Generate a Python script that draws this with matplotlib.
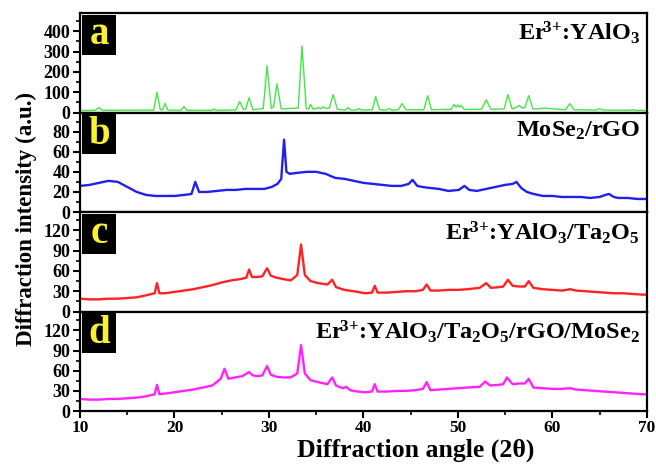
import numpy as np
import matplotlib
matplotlib.use('Agg')
import matplotlib.pyplot as plt
from matplotlib.patches import Rectangle
from matplotlib.ticker import MultipleLocator

plt.rcParams['font.family'] = 'Liberation Serif'
plt.rcParams['font.weight'] = 'bold'
plt.rcParams['mathtext.fontset'] = 'custom'
plt.rcParams['mathtext.rm'] = 'Liberation Serif:bold'
plt.rcParams['mathtext.bf'] = 'Liberation Serif:bold'
plt.rcParams['mathtext.it'] = 'Liberation Serif:bold'

# panel a: Er3+:YAlO3
angle_a = [10, 11.6, 12.0, 12.4, 17.8, 18.15, 18.5, 18.75, 19.0, 19.3, 20.7, 21.0, 21.3,
           23.9, 24.2, 24.5, 26.5, 26.9, 27.3, 27.55, 27.9, 28.3, 29.4, 29.8, 30.25, 30.5,
           30.85, 31.3, 33.1, 33.5, 33.95, 34.2, 34.4, 34.7, 35.0, 35.2, 35.45, 35.7, 36.1,
           36.4, 36.8, 37.25, 38.1, 38.4, 38.7, 39.2, 39.5, 39.8, 40.95, 41.3, 41.7, 42.4,
           42.7, 43.0, 43.7, 44.1, 44.5, 46.4, 46.8, 47.2, 49.3, 49.6, 49.8, 50.0, 50.15,
           50.3, 50.7, 52.5, 53.0, 53.5, 54.9, 55.3, 55.75, 56.2, 56.5, 56.8, 57.1, 57.5,
           57.95, 58.5, 59.2, 60.0, 61.4, 61.85, 62.3, 64.6, 65.0, 65.4, 68.2, 68.5, 68.8, 70]
inten_a = [10, 11, 24, 11, 12, 100, 14, 13, 45, 12, 11, 30, 11,
           11, 17, 11, 13, 54, 16, 18, 73, 14, 20, 230, 20, 28,
           142, 18, 22, 328, 20, 16, 40, 16, 18, 26, 18, 28, 20,
           22, 88, 16, 12, 24, 12, 12, 20, 12, 14, 78, 14, 12,
           20, 12, 14, 44, 14, 14, 83, 14, 16, 40, 26, 38, 27,
           35, 15, 16, 63, 16, 18, 88, 18, 25, 35, 22, 25, 83,
           18, 18, 22, 18, 14, 44, 14, 12, 18, 12, 11, 14, 11, 10]

# panel b: MoSe2/rGO
angle_b = [10, 11, 12, 13, 14, 15, 16, 17, 18, 19, 20, 21, 21.8, 22.2, 22.6,
           23.5, 24.5, 25.5, 26.5, 27.5, 28.5, 29.5, 30.3, 30.9, 31.3, 31.6, 31.85,
           32.2, 33, 34, 35, 36, 37, 38, 39, 40, 41, 42, 43, 44, 44.8, 45.2, 45.7,
           46.2, 47, 48, 49, 50.1, 50.7, 51.2, 52, 53, 54, 55, 55.8, 56.2, 56.7,
           57.3, 58, 59, 60, 61, 62, 63, 64, 65, 65.6, 66.0, 66.5, 67, 68, 69, 70]
inten_b = [26, 27, 29, 31, 30, 25, 20, 17, 16, 16, 16, 17, 18, 30, 20,
           20, 21, 22, 22, 23, 23, 23, 25, 28, 33, 72, 40,
           38, 39, 40, 40, 38, 34, 33, 31, 29, 28, 27, 26, 26, 28, 32, 26,
           25, 24, 23, 21, 22, 26, 22, 21, 23, 25, 27, 28, 30, 24,
           20, 18, 16, 16, 15, 15, 15, 14, 15, 17, 18, 15, 14, 14, 13, 13]

# panel c: Er3+:YAlO3/Ta2O5
angle_c = [10, 11, 12, 13, 14, 15, 16, 17, 17.9, 18.15, 18.4, 19, 20, 21, 22, 23, 24,
           25, 26, 27, 27.6, 27.9, 28.2, 28.7, 29.3, 29.8, 30.2, 30.8, 31.5, 32.3, 33.0,
           33.4, 33.8, 34.4, 35.2, 36.2, 36.7, 37.1, 38, 39, 40.2, 40.9, 41.2, 41.5, 42.5,
           43.5, 44.5, 45.5, 46.3, 46.7, 47.1, 48, 49, 50, 51, 52.3, 53.0, 53.5, 54.3,
           54.8, 55.3, 55.8, 56.5, 57.1, 57.5, 58.0, 59, 60, 61, 61.9, 62.5, 63.5, 64.5,
           65.5, 66.5, 67.5, 68.5, 69.5, 70]
inten_c = [19, 18, 18, 19, 19, 20, 21, 24, 27, 42, 27, 27, 29, 31, 33, 36, 39,
           43, 46, 48, 50, 62, 51, 51, 52, 64, 53, 50, 48, 46, 54,
           99, 54, 45, 42, 40, 47, 36, 32, 30, 27, 28, 38, 28, 28,
           29, 30, 30, 32, 40, 31, 31, 32, 32, 33, 35, 42, 35, 36,
           37, 47, 38, 37, 37, 45, 35, 33, 32, 31, 33, 31, 30, 29,
           28, 27, 27, 26, 25, 25]

# panel d: Er3+:YAlO3/Ta2O5/rGO/MoSe2
angle_d = [10, 11, 12, 13, 14, 15, 16, 17, 17.9, 18.15, 18.4, 19, 20, 21, 22, 23, 24,
           24.9, 25.3, 25.7, 26.4, 27.2, 27.9, 28.3, 28.8, 29.3, 29.8, 30.2, 30.8, 31.5,
           32.3, 33.0, 33.4, 33.8, 34.4, 35.2, 36.2, 36.7, 37.1, 37.8, 38.2, 38.6, 39.4,
           40.2, 40.9, 41.2, 41.5, 42.5, 43.5, 44.5, 45.5, 46.3, 46.7, 47.1, 48, 49, 50,
           51, 52.3, 52.9, 53.4, 54.3, 54.8, 55.2, 55.8, 56.5, 57.1, 57.5, 58.0, 59, 60,
           61, 61.9, 62.5, 63.5, 64.5, 65.5, 66.5, 67.5, 68.5, 69.5, 70]
inten_d = [18, 17, 17, 18, 18, 19, 20, 22, 25, 39, 25, 26, 28, 30, 32, 35, 38,
           48, 63, 48, 50, 52, 58, 53, 52, 53, 67, 54, 51, 50,
           50, 56, 98, 56, 46, 43, 40, 50, 38, 34, 36, 31, 29,
           28, 29, 40, 29, 29, 30, 30, 31, 33, 43, 31, 32, 33, 34,
           35, 36, 44, 38, 39, 40, 50, 40, 41, 41, 48, 35, 34, 33,
           33, 34, 32, 31, 30, 29, 28, 27, 26, 25, 25]

er = r'$\mathregular{Er^{\!3{+}}}$'
panels = [
    (angle_a, inten_a, '#44e644', 'a', er + ':YAlO$_3$', 490, 100),
    (angle_b, inten_b, '#2020ee', 'b', 'MoSe$_2$/rGO', 99, 20),
    (angle_c, inten_c, '#ff2222', 'c', er + ':YAlO$_3$/Ta$_2$O$_5$', 147, 30),
    (angle_d, inten_d, '#ff22ff', 'd', er + ':YAlO$_3$/Ta$_2$O$_5$/rGO/MoSe$_2$', 148, 30),
]

fig, axes = plt.subplots(4, 1, figsize=(6.56, 4.65), dpi=100, sharex=True)
plt.subplots_adjust(left=0.122, right=0.986, top=0.972, bottom=0.116, hspace=0)

for ax, (x, y, col, letter, title, ytop, step) in zip(axes, panels):
    lw = 1.0 if letter == 'a' else 1.7
    ax.plot(x, y, color=col, lw=lw)
    ax.set_xlim(10, 70)
    ax.set_ylim(0, ytop)
    ax.yaxis.set_major_locator(MultipleLocator(step))
    ax.yaxis.set_minor_locator(MultipleLocator(step / 2))
    ax.xaxis.set_major_locator(MultipleLocator(10))
    ax.xaxis.set_minor_locator(MultipleLocator(5))
    ax.tick_params(axis='y', which='major', direction='out', length=5, width=1.5,
                   labelsize=13, pad=2)
    ax.tick_params(axis='y', which='minor', direction='out', length=3, width=1.2)
    ax.tick_params(axis='x', which='major', direction='out', length=5, width=1.5,
                   labelsize=12.5, pad=1.5)
    ax.tick_params(axis='x', which='minor', direction='out', length=3, width=1.2)
    if letter != 'd':
        ax.tick_params(axis='x', which='both', bottom=False, labelbottom=False)
    for s in ax.spines.values():
        s.set_linewidth(1.6)
    for lab in ax.get_yticklabels() + ax.get_xticklabels():
        lab.set_fontweight('bold')
    ax.add_patch(Rectangle((0.003, 0.58), 0.061, 0.405, transform=ax.transAxes,
                           facecolor='black', edgecolor='none', zorder=5))
    ax.text(0.034, 0.78, letter, transform=ax.transAxes, color='#f8f030',
            fontsize=28, fontweight='bold', ha='center', va='center', zorder=6)
    ax.text(0.988, 0.93, title, transform=ax.transAxes, ha='right', va='top',
            fontsize=17.5)

fig.text(0.633, 0.006, 'Diffraction angle (2θ)', fontsize=18.5, fontweight='bold',
         ha='center', va='bottom')
fig.text(0.04, 0.53, 'Diffraction intensity (a.u.)', rotation=90, fontsize=16.5,
         fontweight='bold', ha='center', va='center')

plt.savefig('out.png', dpi=100)
